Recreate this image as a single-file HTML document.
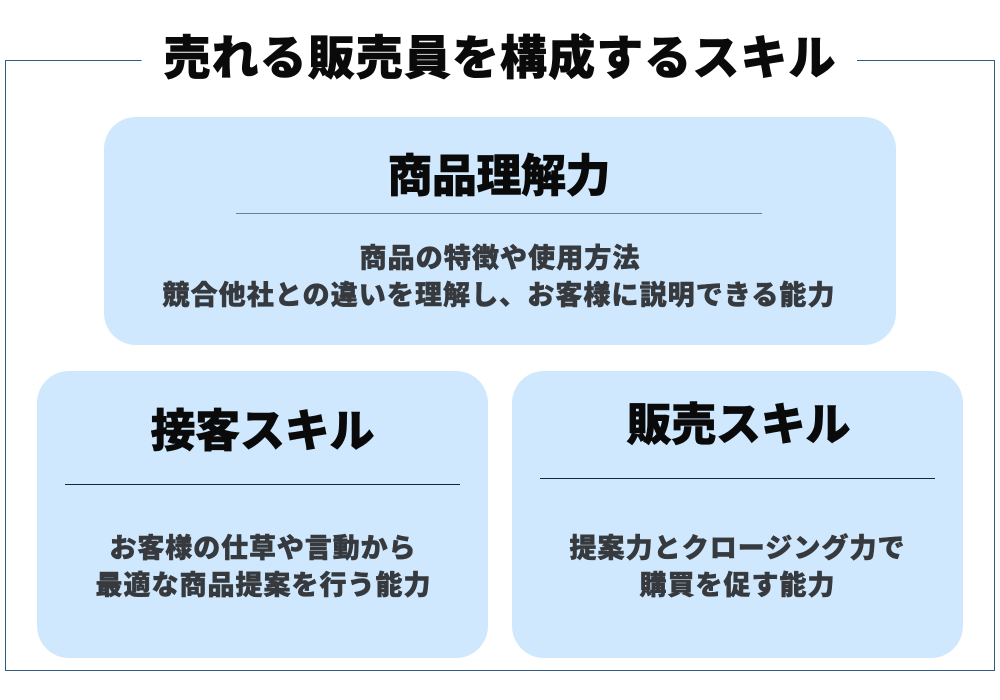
<!DOCTYPE html>
<html lang="ja">
<head>
<meta charset="utf-8">
<style>
html,body{margin:0;padding:0;background:#fff}
svg{display:block}
text{font-family:"Liberation Sans","Noto Sans CJK JP",sans-serif;text-anchor:start;paint-order:stroke}
.h{font-weight:900;fill:#0a0a0a;stroke:#0a0a0a;stroke-width:.6px;font-size:45px}
.t{font-weight:900;fill:#0a0a0a;stroke:#0a0a0a;stroke-width:.6px;font-size:47px}
.b{font-weight:900;fill:#36393d;stroke:#36393d;stroke-width:.5px;font-size:27px}
</style>
</head>
<body>
<svg width="1000" height="700" viewBox="0 0 1000 700" xmlns="http://www.w3.org/2000/svg">
<rect width="1000" height="700" fill="#fff"/>
<path d="M141.500 60.500H5.500V670.500H994.500V60.500H857" fill="none" stroke="#2f5b85" stroke-width="1"/>
<rect x="104" y="117" width="792" height="228" rx="32" fill="#cfe8fd"/>
<rect x="37" y="371" width="451" height="287" rx="32" fill="#cfe8fd"/>
<rect x="512" y="371" width="451" height="287" rx="32" fill="#cfe8fd"/>
<line x1="236" y1="213.500" x2="762" y2="213.500" stroke="#6b7f96" stroke-width="1"/>
<line x1="65" y1="484.500" x2="460" y2="484.500" stroke="#14283c" stroke-width="1"/>
<line x1="540" y1="478.500" x2="935" y2="478.500" stroke="#14283c" stroke-width="1"/>
<text class="t" x="163.500" y="74.500" textLength="672" lengthAdjust="spacing">売れる販売員を構成するスキル</text>
<text class="h" x="387.500" y="191.500" textLength="223" lengthAdjust="spacing">商品理解力</text>
<text class="b" x="359.500" y="267.500" textLength="280" lengthAdjust="spacing">商品の特徴や使用方法</text>
<text class="b" x="162.500" y="304.500" textLength="672" lengthAdjust="spacing">競合他社との違いを理解し、お客様に説明できる能力</text>
<text class="h" x="150.500" y="446.500" textLength="224" lengthAdjust="spacing">接客スキル</text>
<text class="b" x="109.500" y="557.500" textLength="306" lengthAdjust="spacing">お客様の仕草や言動から</text>
<text class="b" x="95.500" y="594.500" textLength="335" lengthAdjust="spacing">最適な商品提案を行う能力</text>
<text class="h" x="626.500" y="440" textLength="224" lengthAdjust="spacing">販売スキル</text>
<text class="b" x="569.500" y="557.500" textLength="335" lengthAdjust="spacing">提案力とクロージング力で</text>
<text class="b" x="639.500" y="594.500" textLength="195" lengthAdjust="spacing">購買を促す能力</text>
</svg>
</body>
</html>
